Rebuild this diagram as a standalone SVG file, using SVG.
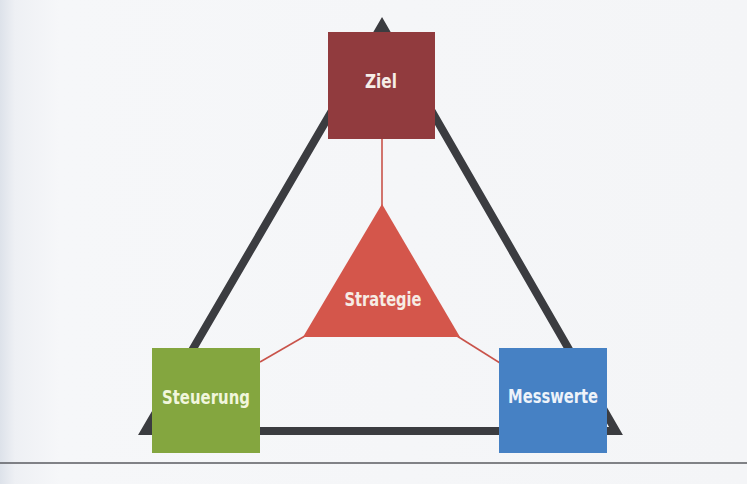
<svg xmlns="http://www.w3.org/2000/svg" width="747" height="484" viewBox="0 0 747 484">
  <defs>
    <linearGradient id="paper" x1="0" y1="0" x2="1" y2="0">
      <stop offset="0" stop-color="#dde2ea"/>
      <stop offset="0.02" stop-color="#eef0f4"/>
      <stop offset="0.08" stop-color="#f6f7f9"/>
      <stop offset="1" stop-color="#f4f5f7"/>
    </linearGradient>
    <style>
      .label { font-family: "DejaVu Sans Condensed", "DejaVu Sans", "Liberation Sans", sans-serif; font-weight: bold; font-size: 19px; text-anchor: middle; }
      .frame { fill: none; stroke: #3b3c40; stroke-width: 8; stroke-linejoin: miter; stroke-miterlimit: 10; }
      .link { fill: none; stroke: #c9534a; stroke-width: 1.6; }
    </style>
  </defs>

  <!-- page -->
  <rect x="0" y="0" width="747" height="484" fill="url(#paper)"/>
  <line x1="0" y1="463" x2="747" y2="463" stroke="#5a5b60" stroke-width="1.5"/>

  <!-- outer triangle frame -->
  <polygon class="frame" points="382,25 145,431 616,431"/>

  <!-- connectors -->
  <g id="connectors">
    <line class="link" x1="382" y1="139" x2="382" y2="206"/>
    <line class="link" x1="305" y1="336" x2="260" y2="362"/>
    <line class="link" x1="457" y1="336" x2="500" y2="363"/>
  </g>

  <g id="strategie">
    <polygon points="382,204 303,337 460,337" fill="#d4564b"/>
    <text class="label" x="383" y="306" fill="#f6ece4" textLength="77" lengthAdjust="spacingAndGlyphs">Strategie</text>
  </g>

  <g id="ziel">
    <rect x="328" y="32" width="107" height="107" fill="#913b3e"/>
    <text class="label" x="381" y="88" fill="#f6eee8" textLength="32" lengthAdjust="spacingAndGlyphs">Ziel</text>
  </g>

  <g id="steuerung">
    <rect x="152" y="348" width="108" height="105" fill="#84a63f"/>
    <text class="label" x="206" y="404" fill="#f1f6dc" textLength="88" lengthAdjust="spacingAndGlyphs">Steuerung</text>
  </g>

  <g id="messwerte">
    <rect x="499" y="348" width="108" height="105" fill="#4681c4"/>
    <text class="label" x="553" y="403" fill="#eef3fa" textLength="90" lengthAdjust="spacingAndGlyphs">Messwerte</text>
  </g>
</svg>
